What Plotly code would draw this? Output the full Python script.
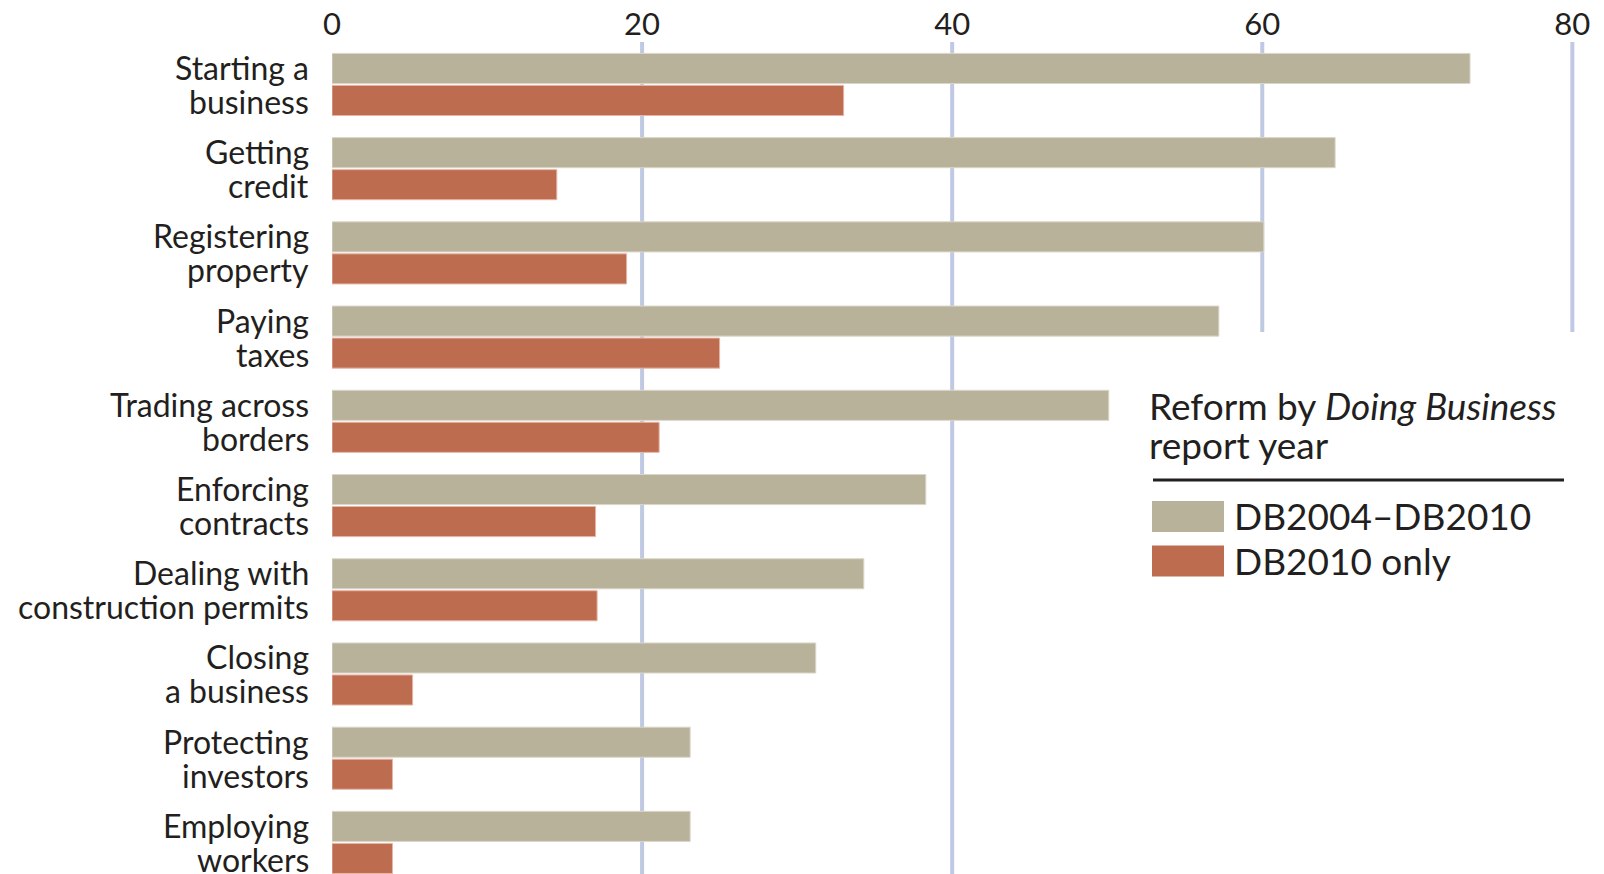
import plotly.graph_objects as go

# ---- data ----
categories = [
    "Starting a business", "Getting credit", "Registering property",
    "Paying taxes", "Trading across borders", "Enforcing contracts",
    "Dealing with construction permits", "Closing a business",
    "Protecting investors", "Employing workers",
]
label_lines = [
    ("Starting a", "business"), ("Getting", "credit"), ("Registering", "property"),
    ("Paying", "taxes"), ("Trading across", "borders"), ("Enforcing", "contracts"),
    ("Dealing with", "construction permits"), ("Closing", "a business"),
    ("Protecting", "investors"), ("Employing", "workers"),
]
db2004_2010 = [73.4, 64.7, 60.1, 57.2, 50.1, 38.3, 34.3, 31.2, 23.1, 23.1]
db2010_only = [33.0, 14.5, 19.0, 25.0, 21.1, 17.0, 17.1, 5.2, 3.9, 3.9]
series_names = ["DB2004\u2013DB2010", "DB2010 only"]
tick_vals = [0, 20, 40, 60, 80]
grid_full = [20, 40]
grid_short = [60, 80]

# ---- style ----
W, H = 1604, 874
ML, MR, MT, MB = 324, 35, 34, 0
FONT = "Lato"
TXT = "#231F20"
GRAY = "#B9B29A"
RED = "#BE6C4F"
GRID = "#C0C9E4"

PW = W - ML - MR
PH = H - MT - MB

def px(x):
    return (x - ML) / PW

def py(y):
    return (H - MB - y) / PH

fig = go.Figure()
fig.add_trace(go.Bar(
    y=categories, x=db2004_2010, orientation="h", name=series_names[0],
    marker=dict(color=GRAY, line=dict(color="#DAD6C8", width=1)),
))
fig.add_trace(go.Bar(
    y=categories, x=db2010_only, orientation="h", name=series_names[1],
    marker=dict(color=RED, line=dict(color="#E6B5A5", width=1)),
))

shapes = []
for v in grid_full:
    shapes.append(dict(type="line", xref="x", yref="paper", x0=v, x1=v, y0=0, y1=1,
                       line=dict(color=GRID, width=4), layer="below"))
for v in grid_short:
    shapes.append(dict(type="line", xref="x", yref="paper", x0=v, x1=v, y0=py(324), y1=1,
                       line=dict(color=GRID, width=4), layer="below"))

# legend (custom)
shapes.append(dict(type="line", xref="paper", yref="paper", x0=px(1145), x1=px(1556),
                   y0=py(472), y1=py(472), line=dict(color=TXT, width=3)))
legend_colors = [GRAY, RED]
legend_y = [508.5, 553]
for c, yy in zip(legend_colors, legend_y):
    shapes.append(dict(type="rect", xref="paper", yref="paper",
                       x0=px(1144), x1=px(1216), y0=py(yy - 15.5), y1=py(yy + 15.5),
                       fillcolor=c, line=dict(width=0)))

annotations = []
for cat, (l1, l2) in zip(categories, label_lines):
    for txt, sh in ((l1, 17), (l2, -17)):
        annotations.append(dict(
            text=txt, xref="paper", yref="y", x=0, y=cat, xshift=-21, yshift=sh,
            xanchor="right", yanchor="middle", showarrow=False,
            font=dict(family=FONT, size=32, color=TXT),
        ))

annotations.append(dict(text="Reform by <i>Doing Business</i>", xref="paper", yref="paper",
                        x=px(1139), y=py(397), xanchor="left", yanchor="middle",
                        showarrow=False, font=dict(family=FONT, size=37, color=TXT)))
annotations.append(dict(text="report year", xref="paper", yref="paper",
                        x=px(1139), y=py(437), xanchor="left", yanchor="middle",
                        showarrow=False, font=dict(family=FONT, size=37, color=TXT)))
for name, yy in zip(series_names, legend_y):
    annotations.append(dict(text=name, xref="paper", yref="paper",
                            x=px(1224), y=py(yy - 1), xanchor="left", yanchor="middle",
                            showarrow=False, font=dict(family=FONT, size=37, color=TXT)))

fig.update_layout(
    width=W, height=H,
    margin=dict(l=ML, r=MR, t=MT, b=MB, pad=0),
    paper_bgcolor="white", plot_bgcolor="white",
    barmode="group", bargap=0.24, bargroupgap=0.06,
    showlegend=False,
    shapes=shapes, annotations=annotations,
    font=dict(family=FONT, color=TXT),
)
fig.update_xaxes(
    side="top", range=[0, 80.3], tickvals=tick_vals, ticktext=[str(v) for v in tick_vals],
    showgrid=False, zeroline=False, showline=False, ticks="", automargin=False,
    tickfont=dict(family=FONT, size=31, color=TXT), ticklabelstandoff=0,
)
fig.update_yaxes(
    range=[9.47, -0.504], showticklabels=False, showgrid=False, zeroline=False,
    showline=False, ticks="", automargin=False,
)

fig.write_html("out.html")
